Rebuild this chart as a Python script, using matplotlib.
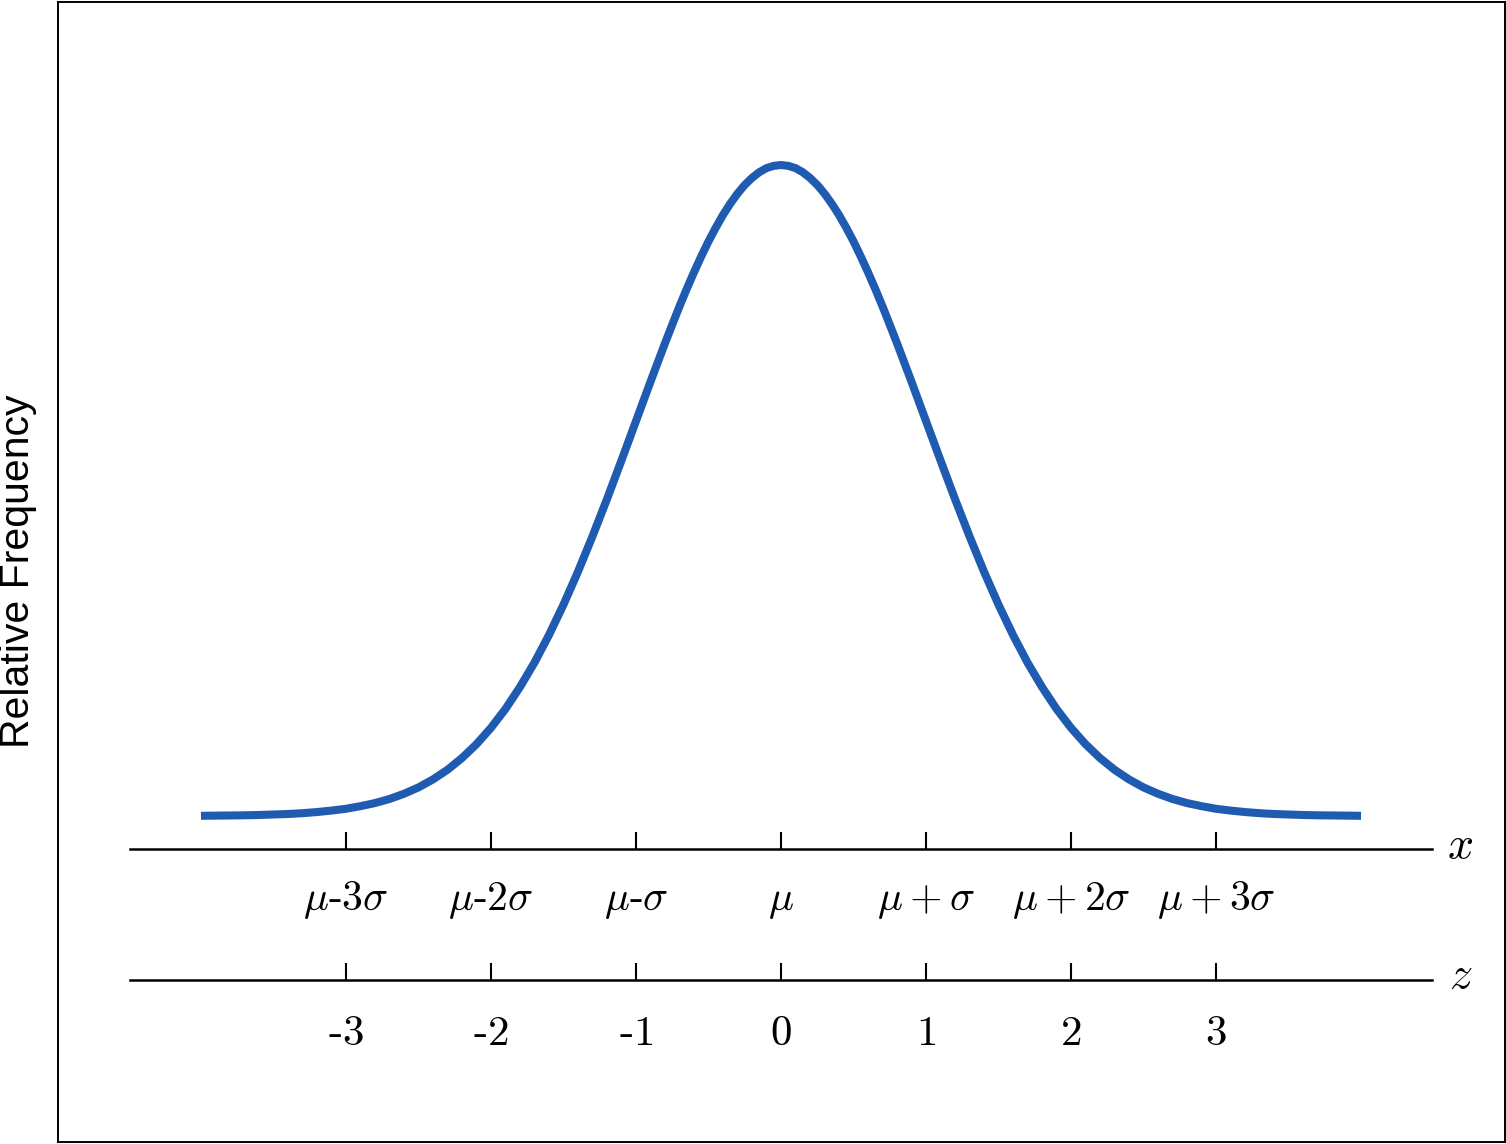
import matplotlib
matplotlib.use("Agg")
import matplotlib.pyplot as plt

plt.rcParams['mathtext.fontset'] = 'cm'

# Curve values (relative frequency at z positions; finer near the peak)
z_vals = [-4.0, -3.9, -3.8, -3.7, -3.6, -3.5, -3.4, -3.3, -3.2, -3.1,
          -3.0, -2.9, -2.8, -2.7, -2.6, -2.5, -2.4, -2.3, -2.2, -2.1,
          -2.0, -1.9, -1.8, -1.7, -1.6, -1.5, -1.4, -1.3, -1.2, -1.1,
          -1.0, -0.9, -0.8, -0.75, -0.7, -0.65, -0.6, -0.55, -0.5, -0.45,
          -0.4, -0.35, -0.3, -0.25, -0.2, -0.15, -0.1, -0.05,
          0.0,
          0.05, 0.1, 0.15, 0.2, 0.25, 0.3, 0.35, 0.4,
          0.45, 0.5, 0.55, 0.6, 0.65, 0.7, 0.75, 0.8, 0.9, 1.0,
          1.1, 1.2, 1.3, 1.4, 1.5, 1.6, 1.7, 1.8, 1.9, 2.0,
          2.1, 2.2, 2.3, 2.4, 2.5, 2.6, 2.7, 2.8, 2.9, 3.0,
          3.1, 3.2, 3.3, 3.4, 3.5, 3.6, 3.7, 3.8, 3.9, 4.0]
rel_freq = [0.0001, 0.0002, 0.0003, 0.0004, 0.0006, 0.0009, 0.0012, 0.0017, 0.0024, 0.0033,
            0.0044, 0.0060, 0.0079, 0.0104, 0.0136, 0.0175, 0.0224, 0.0283, 0.0355, 0.0440,
            0.0540, 0.0656, 0.0790, 0.0940, 0.1109, 0.1295, 0.1497, 0.1714, 0.1942, 0.2179,
            0.2420, 0.2661, 0.2897, 0.3011, 0.3123, 0.3230, 0.3332, 0.3429, 0.3521, 0.3605,
            0.3683, 0.3752, 0.3814, 0.3867, 0.3910, 0.3945, 0.3970, 0.3984,
            0.3989,
            0.3984, 0.3970, 0.3945, 0.3910, 0.3867, 0.3814, 0.3752, 0.3683,
            0.3605, 0.3521, 0.3429, 0.3332, 0.3230, 0.3123, 0.3011, 0.2897, 0.2661, 0.2420,
            0.2179, 0.1942, 0.1714, 0.1497, 0.1295, 0.1109, 0.0940, 0.0790, 0.0656, 0.0540,
            0.0440, 0.0355, 0.0283, 0.0224, 0.0175, 0.0136, 0.0104, 0.0079, 0.0060, 0.0044,
            0.0033, 0.0024, 0.0017, 0.0012, 0.0009, 0.0006, 0.0004, 0.0003, 0.0002, 0.0001]

tick_pos = [-3, -2, -1, 0, 1, 2, 3]
x_labels = [r'$\mu\text{-}3\sigma$', r'$\mu\text{-}2\sigma$', r'$\mu\text{-}\sigma$',
            r'$\mu$', r'$\mu+\sigma$', r'$\mu+2\sigma$', r'$\mu+3\sigma$']
z_labels = [r'$\text{-}3$', r'$\text{-}2$', r'$\text{-}1$', r'$0$', r'$1$', r'$2$', r'$3$']

W, H = 1506, 1144
fig = plt.figure(figsize=(W / 100, H / 100), dpi=100)
ax = fig.add_axes([58 / W, 2 / H, (1505 - 58) / W, (1142 - 2) / H])
ax.set_xlim(-4.986, 4.993)
ax.set_ylim(-0.1998, 0.4988)
ax.set_xticks([])
ax.set_yticks([])
for s in ax.spines.values():
    s.set_linewidth(1.4)
    s.set_color('black')

ax.plot(z_vals, rel_freq, color='#1f5bb0', lw=5.8, solid_capstyle='butt',
        solid_joinstyle='round')

y_xaxis = -0.0202
y_zaxis = -0.1005
tick_len = 17 / 1632
for yl in (y_xaxis, y_zaxis):
    ax.plot([-4.49, 4.49], [yl, yl], color='black', lw=1.8)
    ax.vlines(tick_pos, yl, yl + tick_len, color='black', lw=1.5)

for p, lab in zip(tick_pos, x_labels):
    ax.text(p, -0.0576, lab, ha='center', va='baseline', fontsize=30)
for p, lab in zip(tick_pos, z_labels):
    ax.text(p, -0.1403, lab, ha='center', va='baseline', fontsize=31)

ax.text(4.59, -0.0257, r'$x$', ha='left', va='baseline', fontsize=33)
ax.text(4.61, -0.1054, r'$z$', ha='left', va='baseline', fontsize=33)

fig.text(18 / W, 1 - 571 / H, 'Relative Frequency', rotation=90,
         ha='center', va='center', fontsize=29.5, family='Liberation Sans')

fig.savefig('out.png', dpi=100)
